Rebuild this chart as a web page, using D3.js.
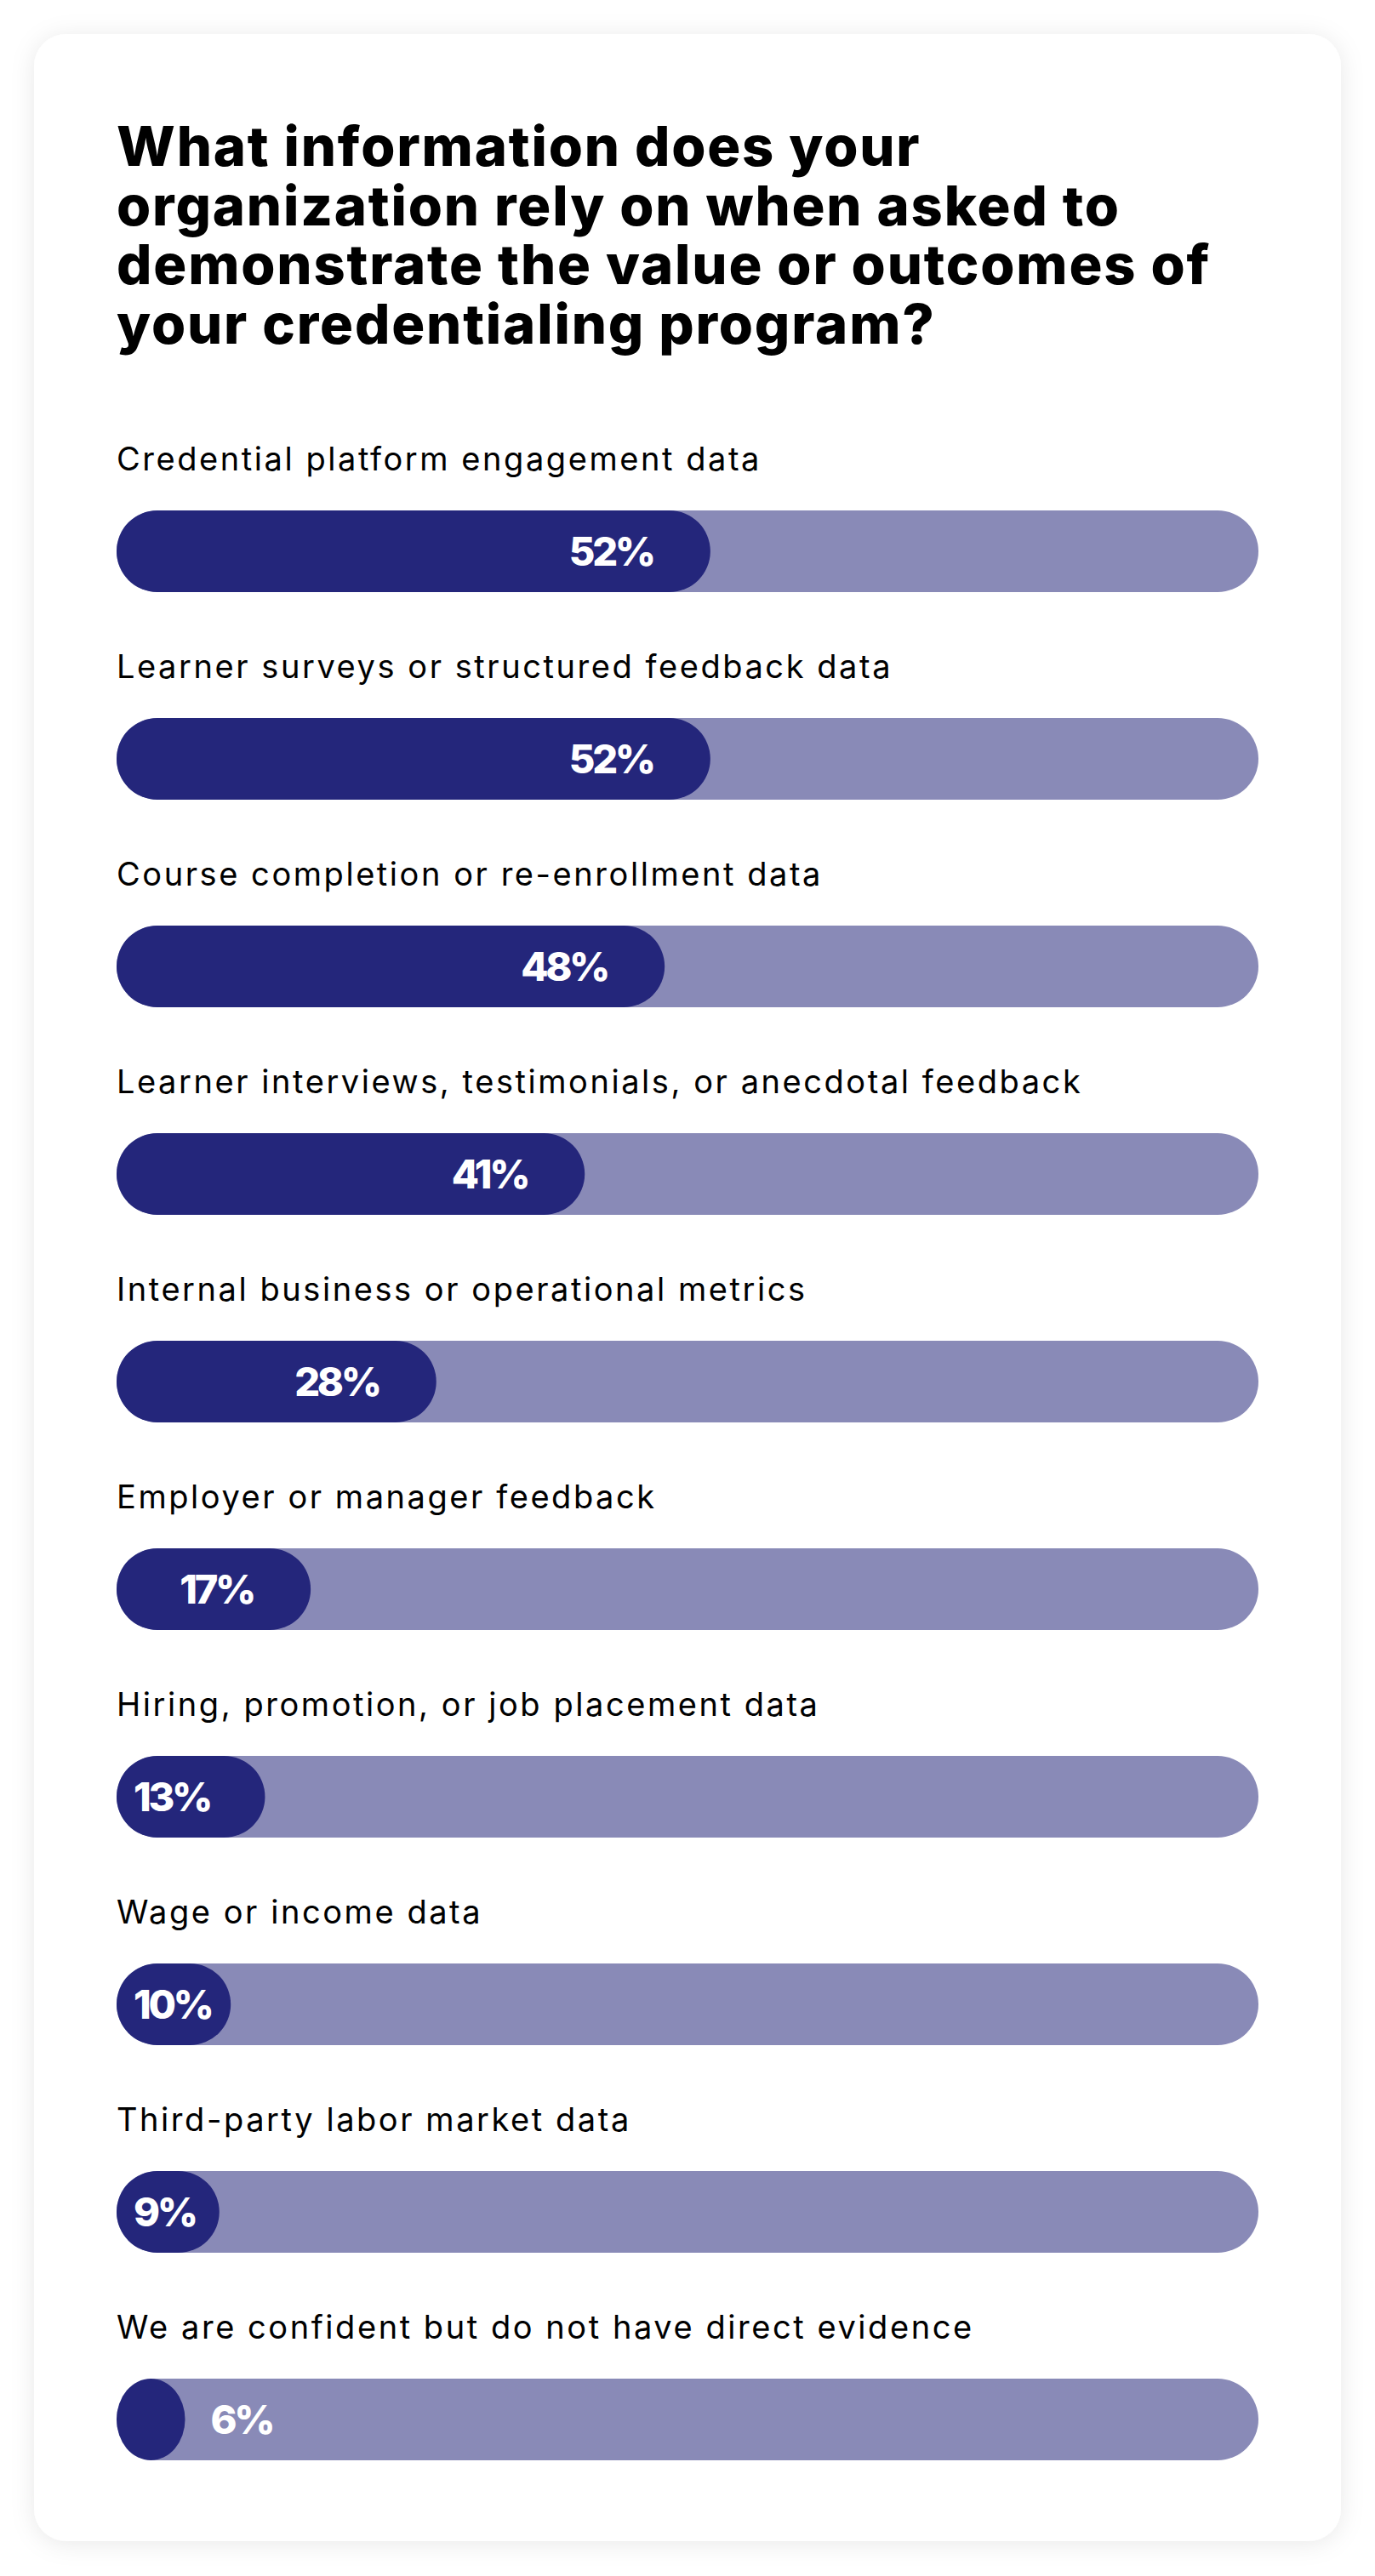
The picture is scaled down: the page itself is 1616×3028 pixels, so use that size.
<!DOCTYPE html>
<html>
<head>
<meta charset="utf-8">
<script src="https://cdn.jsdelivr.net/npm/d3@7"></script>
<style>
  body { margin: 0; background: #fff; }
  svg { display: block; }
</style>
</head>
<body>
<script>
// chart content
var titleLines = ['What information does your',
                  'organization rely on when asked to',
                  'demonstrate the value or outcomes of',
                  'your credentialing program?'];
var categories = ['Credential platform engagement data',
                  'Learner surveys or structured feedback data',
                  'Course completion or re-enrollment data',
                  'Learner interviews, testimonials, or anecdotal feedback',
                  'Internal business or operational metrics',
                  'Employer or manager feedback',
                  'Hiring, promotion, or job placement data',
                  'Wage or income data',
                  'Third-party labor market data',
                  'We are confident but do not have direct evidence'];
var values = [52, 52, 48, 41, 28, 17, 13, 10, 9, 6];

var width = 1616,
    height = 3028,
    dark = '#24267b',
    light = '#898ab7';

var svg = d3.select('body').append('svg')
    .attr('width', width)
    .attr('height', height);

/* soft shadow round the white card */
var filter = svg.append('defs').append('filter')
    .attr('id', 'shadow')
    .attr('x', '-10%').attr('y', '-10%')
    .attr('width', '120%').attr('height', '120%');
filter.append('feDropShadow')
    .attr('dx', 0).attr('dy', 3)
    .attr('stdDeviation', 14)
    .attr('flood-color', '#000')
    .attr('flood-opacity', 0.09);

svg.append('rect')
    .attr('x', 40).attr('y', 40)
    .attr('width', 1536).attr('height', 2947)
    .attr('rx', 38)
    .attr('fill', '#fff')
    .attr('filter', 'url(#shadow)');

/* fit a text's width by letter spacing */
function spacingFor(node, target) {
    var w = node.getComputedTextLength();
    return (target - w) / node.textContent.length;
}

// title, one text block with a tspan per line
var title = svg.append('text')
    .style('font-family', 'Inter, "Open Sans", sans-serif')
    .style('font-weight', 800)
    .style('font-size', '65px')
    .attr('fill', '#000');
var titleText = title.selectAll('tspan').data(titleLines).enter().append('tspan')
    .attr('x', 137)
    .attr('y', (d, i) => 195 + i * 69.5)
    .text(d => d);
var tls = spacingFor(titleText.nodes()[2], 1286);
title.attr('letter-spacing', tls);

/* scales */
var x = d3.scaleLinear()
    .domain([0, 100])
    .range([137, 1479]);
var y = d3.scaleBand()
    .domain(categories)
    .range([600, 2892])
    .paddingInner(148 / 244)
    .paddingOuter(0);
var bh = y.bandwidth();

var rows = svg.selectAll('.row').data(categories).enter().append('g')
    .attr('class', 'row')
    .attr('transform', d => 'translate(0,' + y(d) + ')');

var catText = rows.append('text')
    .attr('x', x(0))
    .attr('y', -47)
    .style('font-family', 'Inter, "Open Sans", sans-serif')
    .style('font-size', '38px')
    .attr('fill', '#000')
    .text(d => d);
var cls = spacingFor(catText.nodes()[0], 758);
catText.attr('letter-spacing', cls);

rows.append('rect')
    .attr('x', x(0))
    .attr('width', x(100) - x(0))
    .attr('height', bh)
    .attr('rx', bh / 2).attr('ry', bh / 2)
    .attr('fill', light);

rows.append('rect')
    .attr('x', x(0))
    .attr('width', (d, i) => x(values[i]) - x(0))
    .attr('height', bh)
    .attr('rx', bh / 2).attr('ry', bh / 2)
    .attr('fill', dark);

var valText = rows.append('text')
    .attr('y', bh / 2 + 17)
    .style('font-family', 'Inter, "Open Sans", sans-serif')
    .style('font-weight', 800)
    .style('font-size', '47px')
    .attr('fill', '#fff')
    .text((d, i) => values[i] + '%');
var vls = spacingFor(valText.nodes()[0], 99);
valText.attr('letter-spacing', vls);

valText.each(function(d, i) {
    var t = d3.select(this),
        end = x(values[i]),
        w = this.getComputedTextLength();
    if (end - x(0) < bh) {
        // too short to hold the label: put it just past the bar
        t.attr('x', end + 30).attr('text-anchor', 'start');
    } else if (end - 67 - w < x(0) + 20) {
        t.attr('x', x(0) + 20).attr('text-anchor', 'start');
    } else {
        t.attr('x', end - 67).attr('text-anchor', 'end');
    }
});
</script>
</body>
</html>
